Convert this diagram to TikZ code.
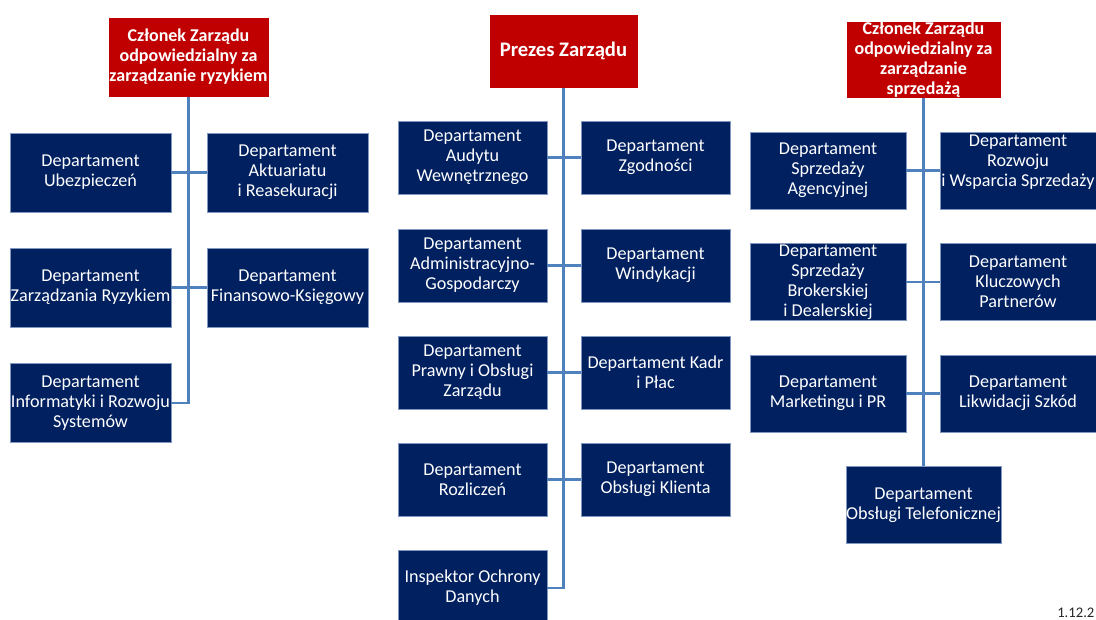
\documentclass[tikz,border=0pt]{standalone}
\usepackage{fontspec}
\setmainfont{Carlito}
\definecolor{navy}{HTML}{002060}
\definecolor{navyedge}{HTML}{8197C0}
\definecolor{redbox}{HTML}{C00000}
\definecolor{conn}{HTML}{4F81BD}
\begin{document}
\begin{tikzpicture}[x=0.75pt,y=-0.75pt,
  dept/.style={fill=navy, draw=navyedge, line width=0.6pt, text=white, align=center,
    inner sep=0pt, font=\fontsize{13.6}{15}\selectfont},
  boss/.style={fill=redbox, draw=white, line width=0.6pt, text=white, align=center,
    inner sep=0pt, font=\bfseries\fontsize{13.5}{15}\selectfont},
  colL/.style={minimum width=120.75pt, minimum height=59.25pt},
  colM/.style={minimum width=111.75pt, minimum height=54.75pt},
  colR/.style={minimum width=117pt, minimum height=57.75pt},
  link/.style={draw=conn, line width=1.6pt}]
\useasboundingbox (0,0) rectangle (1096,619);
\clip (0,0) rectangle (1096,619);

% ---------- left column ----------
\node[boss, minimum width=120.75pt, minimum height=60pt] (czl1) at (188.5,57)
  {Członek Zarządu\\odpowiedzialny za\\zarządzanie ryzykiem};
\node[dept, colL] (ubez) at (90.5,172.5) {Departament\\Ubezpieczeń};
\node[dept, colL] (akt) at (287.5,172.5) {Departament\\Aktuariatu\\i Reasekuracji};
\node[dept, colL] (ryz) at (90.5,287.5) {Departament\\Zarządzania Ryzykiem};
\node[dept, colL] (fin) at (287.5,287.5) {Departament\\Finansowo-Księgowy};
\node[dept, colL] (info) at (90.5,403) {Departament\\Informatyki i Rozwoju\\Systemów};

% ---------- middle column ----------
\node[boss, minimum width=111.75pt, minimum height=55.5pt,
  font=\bfseries\fontsize{15.5}{17}\selectfont] (prezes) at (563.5,51) {Prezes Zarządu};
\node[dept, colM] (aud) at (472.5,157.5) {Departament\\Audytu\\Wewnętrznego};
\node[dept, colM] (zgod) at (655.5,157.5) {Departament\\Zgodności};
\node[dept, colM] (adm) at (472.5,265.5) {Departament\\Administracyjno-\\Gospodarczy};
\node[dept, colM] (wind) at (655.5,265.5) {Departament\\Windykacji};
\node[dept, colM] (praw) at (472.5,372.5) {Departament\\Prawny i Obsługi\\Zarządu};
\node[dept, colM] (kadr) at (655.5,372.5) {Departament Kadr\\i Płac};
\node[dept, colM] (rozl) at (472.5,479.5) {Departament\\Rozliczeń};
\node[dept, colM] (kli) at (655.5,479.5) {Departament\\Obsługi Klienta};
\node[dept, colM, minimum height=57pt] (insp) at (472.5,588) {Inspektor Ochrony\\Danych};

% ---------- right column ----------
\node[boss, minimum width=116.25pt, minimum height=57.75pt] (czl2) at (923.5,59.5)
  {Członek Zarządu\\odpowiedzialny za\\zarządzanie\\sprzedażą};
\node[dept, colR] (agen) at (828,170.5) {Departament\\Sprzedaży\\Agencyjnej};
\node[dept, colR] (rozw) at (1018,170.5) {Departament\\Rozwoju\\i Wsparcia Sprzedaży\\\mbox{}};
\node[dept, colR] (brok) at (828,282) {Departament\\Sprzedaży\\Brokerskiej\\i Dealerskiej};
\node[dept, colR] (klucz) at (1018,282) {Departament\\Kluczowych\\Partnerów};
\node[dept, colR] (mark) at (828,393.5) {Departament\\Marketingu i PR};
\node[dept, colR] (likw) at (1018,393.5) {Departament\\Likwidacji Szkód};
\node[dept, colR, minimum width=116.25pt] (tel) at (923.5,505) {Departament\\Obsługi Telefonicznej};

% ---------- connectors ----------
\draw[link] (czl1.south) -- (czl1.south |- info.east) -- (info.east);
\draw[link] (ubez.east) -- (akt.west);
\draw[link] (ryz.east) -- (fin.west);

\draw[link] (prezes.south) -- (prezes.south |- insp.east) -- (insp.east);
\draw[link] (aud.east) -- (zgod.west);
\draw[link] (adm.east) -- (wind.west);
\draw[link] (praw.east) -- (kadr.west);
\draw[link] (rozl.east) -- (kli.west);

\draw[link] (czl2.south) -- (tel.north);
\draw[link] (agen.east) -- (rozw.west);
\draw[link] (brok.east) -- (klucz.west);
\draw[link] (mark.east) -- (likw.west);

% ---------- date ----------
\node[anchor=base west, inner sep=0pt, font=\fontsize{11}{13}\selectfont, text=black!85] (date) at (1057,617) {1.12.2};
\end{tikzpicture}
\end{document}
